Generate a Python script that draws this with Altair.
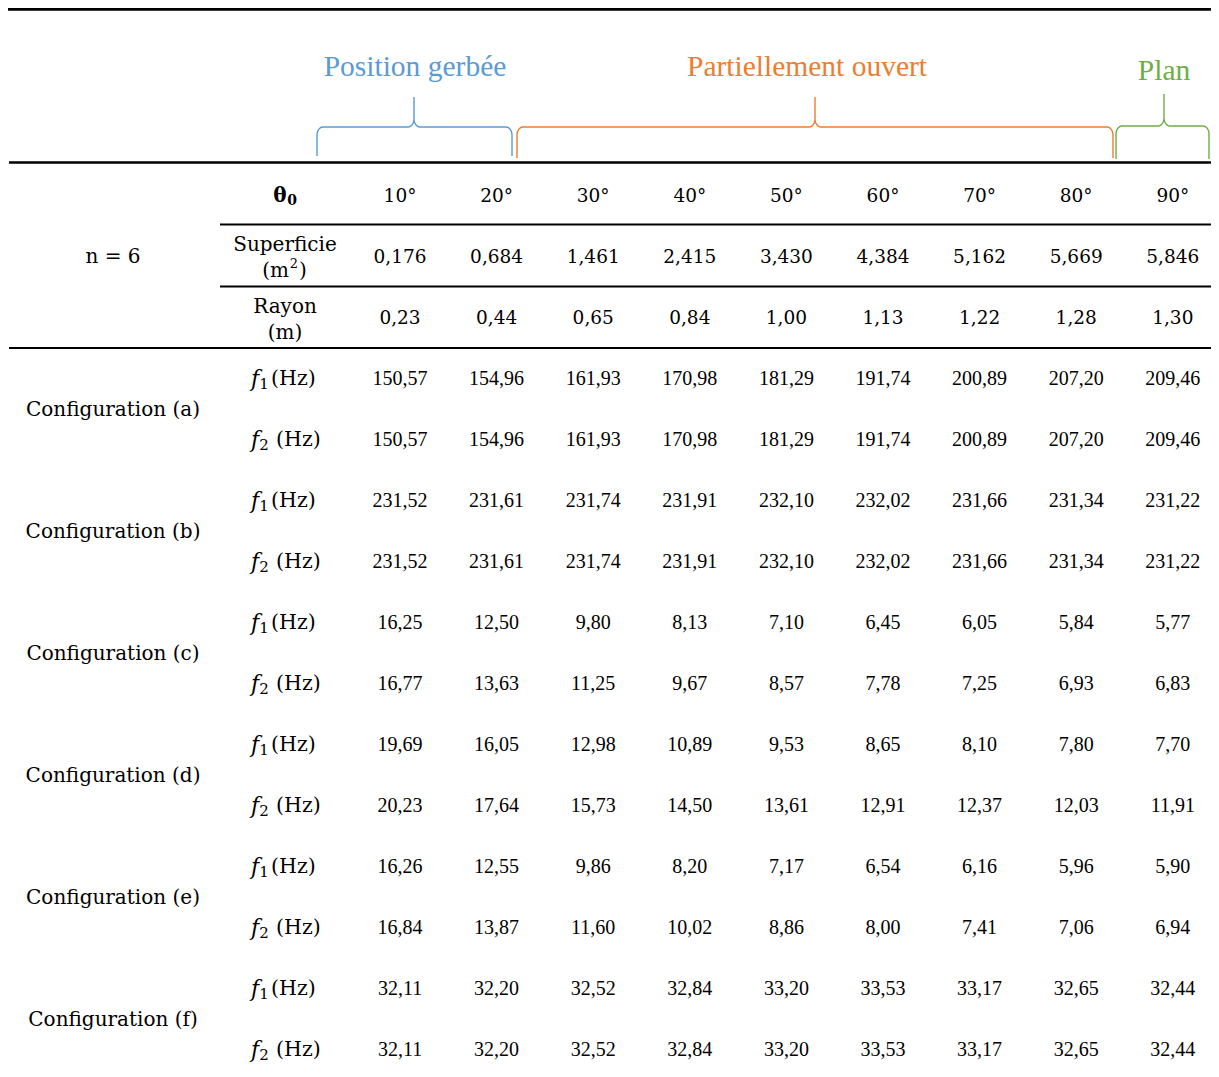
import math
import altair as alt
import pandas as pd

# ---------------- data ----------------
angles = ["10°", "20°", "30°", "40°", "50°", "60°", "70°", "80°", "90°"]
superficie = ["0,176", "0,684", "1,461", "2,415", "3,430", "4,384", "5,162", "5,669", "5,846"]
rayon = ["0,23", "0,44", "0,65", "0,84", "1,00", "1,13", "1,22", "1,28", "1,30"]

config_names = ["Configuration (a)", "Configuration (b)", "Configuration (c)",
                "Configuration (d)", "Configuration (e)", "Configuration (f)"]
f1_values = [
    [150.57, 154.96, 161.93, 170.98, 181.29, 191.74, 200.89, 207.20, 209.46],
    [231.52, 231.61, 231.74, 231.91, 232.10, 232.02, 231.66, 231.34, 231.22],
    [16.25, 12.50, 9.80, 8.13, 7.10, 6.45, 6.05, 5.84, 5.77],
    [19.69, 16.05, 12.98, 10.89, 9.53, 8.65, 8.10, 7.80, 7.70],
    [16.26, 12.55, 9.86, 8.20, 7.17, 6.54, 6.16, 5.96, 5.90],
    [32.11, 32.20, 32.52, 32.84, 33.20, 33.53, 33.17, 32.65, 32.44],
]
f2_values = [
    [150.57, 154.96, 161.93, 170.98, 181.29, 191.74, 200.89, 207.20, 209.46],
    [231.52, 231.61, 231.74, 231.91, 232.10, 232.02, 231.66, 231.34, 231.22],
    [16.77, 13.63, 11.25, 9.67, 8.57, 7.78, 7.25, 6.93, 6.83],
    [20.23, 17.64, 15.73, 14.50, 13.61, 12.91, 12.37, 12.03, 11.91],
    [16.84, 13.87, 11.60, 10.02, 8.86, 8.00, 7.41, 7.06, 6.94],
    [32.11, 32.20, 32.52, 32.84, 33.20, 33.53, 33.17, 32.65, 32.44],
]
group_labels = ["Position gerbée", "Partiellement ouvert", "Plan"]
group_colors = ["#5B9BD5", "#ED7D31", "#70AD47"]

# ---------------- layout (grid units) ----------------
W, H = 1203, 1058
COL_PX = 96.6      # px per column
ROW_PX = 61.0      # px per row
DY = 2             # visual centring of text


def col(px):       # page x -> column units
    return (px - 400) / COL_PX


def row(py):       # page y -> row units
    return (py - 194) / ROW_PX


xs = alt.Scale(domain=[0, 8], range=[400 - 8, 400 - 8 + 8 * COL_PX])
ys = alt.Scale(domain=[0, 14], range=[194 - 8, 194 - 8 + 14 * ROW_PX])
SUB = col(285)
LEFT = col(113)


def X(f):
    return alt.X(f, type="quantitative", scale=xs, axis=None)


def Y(f):
    return alt.Y(f, type="quantitative", scale=ys, axis=None)


def fmt(v):
    return f"{v:.2f}".replace(".", ",")


# ---------- rules ----------
rules = pd.DataFrame([
    dict(x=col(5), x2=col(1225), y=row(9.4), w=2.6),
    dict(x=col(9), x2=col(1225), y=row(162.5), w=2.6),
    dict(x=col(220), x2=col(1225), y=row(224.5), w=2.0),
    dict(x=col(220), x2=col(1225), y=row(286.5), w=2.0),
    dict(x=col(9), x2=col(1225), y=row(348), w=2.0),
])
rule_layer = alt.Chart(rules).mark_rule(color="black").encode(
    x=X("x"), x2="x2", y=Y("y"), strokeWidth=alt.StrokeWidth("w:Q", scale=None))


# ---------- braces ----------
def brace(x0, x1, xm, yl, yb, yp, rx=6, ry=8):
    pts = [(x0, yb)]
    cx, cy = x0 + rx, yl + ry
    for k in range(7):
        t = math.pi + k * (math.pi / 2) / 6
        pts.append((cx + rx * math.cos(t), cy + ry * math.sin(t)))
    cx, cy = xm - rx, yl - ry
    for k in range(7):
        t = math.pi / 2 - k * (math.pi / 2) / 6
        pts.append((cx + rx * math.cos(t), cy + ry * math.sin(t)))
    pts.append((xm, yp))
    cx, cy = xm + rx, yl - ry
    for k in range(7):
        t = math.pi - k * (math.pi / 2) / 6
        pts.append((cx + rx * math.cos(t), cy + ry * math.sin(t)))
    cx, cy = x1 - rx, yl + ry
    for k in range(7):
        t = 1.5 * math.pi + k * (math.pi / 2) / 6
        pts.append((cx + rx * math.cos(t), cy + ry * math.sin(t)))
    pts.append((x1, yb))
    return pts


brace_geom = [
    (317, 512, 414, 127, 156, 97),
    (517, 1113, 815, 127, 158, 97),
    (1116, 1209, 1164, 126, 159, 94),
]
brows = []
for gi, (g, c) in enumerate(zip(group_labels, group_colors)):
    for k, (px, py) in enumerate(brace(*brace_geom[gi])):
        brows.append(dict(g=g, c=c, o=k, x=col(px), y=row(py)))
braces = pd.DataFrame(brows)
brace_layer = alt.Chart(braces).mark_line(strokeWidth=1.4).encode(
    x=X("x"), y=Y("y"), color=alt.Color("c:N", scale=None),
    detail="g:N", order="o:Q")

blabels = pd.DataFrame(dict(
    t=group_labels, c=group_colors,
    x=[col(415), col(807), col(1164)], y=[row(65), row(65), row(69)]))
blabel_layer = alt.Chart(blabels).mark_text(
    font="Liberation Serif", fontSize=29.5, baseline="middle", dy=DY).encode(
    x=X("x"), y=Y("y"), text="t:N", color=alt.Color("c:N", scale=None))

# ---------- header (Cambria-like) ----------
hdr_num = []
for i, a in enumerate(angles):
    hdr_num.append(dict(x=i, y=0, t=a))
for i, s in enumerate(superficie):
    hdr_num.append(dict(x=i, y=1, t=s))
for i, r in enumerate(rayon):
    hdr_num.append(dict(x=i, y=2, t=r))
hdr_num_layer = alt.Chart(pd.DataFrame(hdr_num)).mark_text(
    font="DejaVu Serif", fontSize=18.5, baseline="middle", dy=DY, color="black").encode(
    x=X("x"), y=Y("y"), text="t:N")

hdr = []
hdr.append(dict(x=LEFT, y=1, t="n = 6"))
hdr.append(dict(x=SUB, y=row(243), t="Superficie"))
hdr.append(dict(x=SUB, y=row(305), t="Rayon"))
hdr.append(dict(x=SUB, y=row(331), t="(m)"))
for k, n in enumerate(config_names):
    hdr.append(dict(x=LEFT, y=3 + 2 * k + 0.5, t=n))
hdr_layer = alt.Chart(pd.DataFrame(hdr)).mark_text(
    font="DejaVu Serif", fontSize=20, baseline="middle", dy=DY, color="black").encode(
    x=X("x"), y=Y("y"), text="t:N")

# "(m²)" with a real-size superscript: "(m" + "2" + ")"
m2_left = alt.Chart(pd.DataFrame(dict(x=[col(289)], y=[row(269)], t=["(m"]))).mark_text(
    font="DejaVu Serif", fontSize=20, baseline="middle", dy=DY, align="right",
    color="black").encode(x=X("x"), y=Y("y"), text="t:N")
m2_sup = alt.Chart(pd.DataFrame(dict(x=[col(294)], y=[row(262)], t=["2"]))).mark_text(
    font="DejaVu Serif", fontSize=13, baseline="middle", dy=DY,
    color="black").encode(x=X("x"), y=Y("y"), text="t:N")
m2_right = alt.Chart(pd.DataFrame(dict(x=[col(299)], y=[row(269)], t=[")"]))).mark_text(
    font="DejaVu Serif", fontSize=20, baseline="middle", dy=DY, align="left",
    color="black").encode(x=X("x"), y=Y("y"), text="t:N")

theta_layer = alt.Chart(pd.DataFrame(dict(x=[col(280)], y=[0], t=["θ"]))).mark_text(
    font="DejaVu Serif", fontSize=20, fontWeight="bold", baseline="middle", dy=DY,
    color="black").encode(x=X("x"), y=Y("y"), text="t:N")
theta_sub = alt.Chart(pd.DataFrame(dict(x=[col(292)], y=[row(199)], t=["0"]))).mark_text(
    font="DejaVu Serif", fontSize=14, fontWeight="bold", baseline="middle", dy=DY,
    color="black").encode(x=X("x"), y=Y("y"), text="t:N")

# ---------- frequency values ----------
vals = []
flab = []
for k in range(len(config_names)):
    for j, (lst, sub) in enumerate([(f1_values[k], "1"), (f2_values[k], "2")]):
        r = 3 + 2 * k + j
        for i, v in enumerate(lst):
            vals.append(dict(x=i, y=r, t=fmt(v)))
        flab.append(dict(xf=col(255), xs=col(264), xh=col(271 if sub == "1" else 276),
                         y=r, ys=r + 5 / ROW_PX, s=sub))
vals_df = pd.DataFrame(vals)
flab_df = pd.DataFrame(flab)

val_layer = alt.Chart(vals_df).mark_text(
    font="Liberation Serif", fontSize=20, baseline="middle", dy=DY, color="black").encode(
    x=X("x"), y=Y("y"), text="t:N")

f_layer = alt.Chart(flab_df).mark_text(
    font="DejaVu Serif", fontStyle="italic", fontSize=22, baseline="middle", dy=DY,
    color="black").encode(x=X("xf"), y=Y("y"), text=alt.value("f"))
fs_layer = alt.Chart(flab_df).mark_text(
    font="DejaVu Serif", fontSize=15, baseline="middle", dy=DY,
    color="black").encode(x=X("xs"), y=Y("ys"), text="s:N")
hz_layer = alt.Chart(flab_df).mark_text(
    font="DejaVu Serif", fontSize=20.5, baseline="middle", align="left", dy=DY,
    color="black").encode(x=X("xh"), y=Y("y"), text=alt.value("(Hz)"))

chart = alt.layer(
    rule_layer, brace_layer, blabel_layer, hdr_num_layer, hdr_layer,
    m2_left, m2_sup, m2_right,
    theta_layer, theta_sub, val_layer, f_layer, fs_layer, hz_layer
).properties(
    width=W, height=H, autosize=alt.AutoSizeParams(type="none"), padding=0
).configure_view(stroke=None)

chart.save("out.html", embed_options={"renderer": "svg", "actions": False})
